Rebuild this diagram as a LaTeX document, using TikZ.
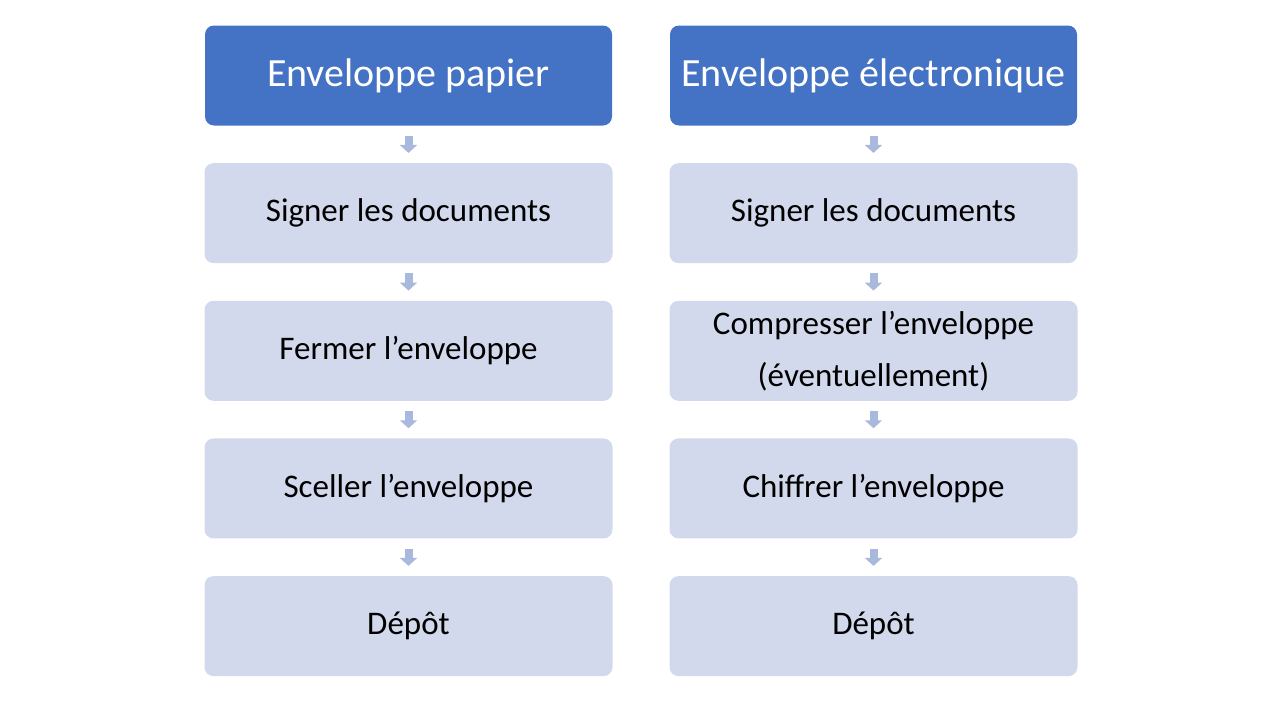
\documentclass[tikz,border=0pt]{standalone}
\usepackage{fontspec}
\setmainfont{Carlito}
\usepackage{tikz}
\usetikzlibrary{positioning,arrows.meta}
\definecolor{accent1}{HTML}{4472C4}
\definecolor{boxfill}{HTML}{D3D9EC}
\definecolor{arrowfill}{HTML}{A9B9DD}

\begin{document}
\begin{tikzpicture}[
      x=1pt, y=1pt,
      node distance=37.25pt,
      titre/.style={
        fill=accent1, text=white,
        rounded corners=9pt,
        minimum width=407pt, minimum height=100pt,
        inner sep=0pt,
        font=\fontsize{40}{48}\selectfont
      },
      etape/.style={
        fill=boxfill, text=black,
        rounded corners=9pt,
        minimum width=408pt, minimum height=100pt,
        align=center,
        inner sep=0pt,
        font=\fontsize{33}{52}\selectfont
      },
      fleche/.style={
        arrowfill, line width=8pt,
        -{Triangle[length=8pt,width=17pt]},
        shorten <=10pt, shorten >=10pt
      }
    ]
      \useasboundingbox (0,0) rectangle (1280,-720);
      \node[titre] (p0) at (408.5,-75.5) {Enveloppe papier};
      \node[etape, below=of p0] (p1) {Signer les documents};
      \node[etape, below=of p1] (p2) {Fermer l’enveloppe};
      \node[etape, below=of p2] (p3) {Sceller l’enveloppe};
      \node[etape, below=of p3] (p4) {Dépôt};

      \node[titre] (e0) at (873.5,-75.5) {Enveloppe électronique};
      \node[etape, below=of e0] (e1) {Signer les documents};
      \node[etape, below=of e1] (e2) {Compresser l’enveloppe\\(éventuellement)};
      \node[etape, below=of e2] (e3) {Chiffrer l’enveloppe};
      \node[etape, below=of e3] (e4) {Dépôt};

      \draw[fleche] (p0) -- (p1);
      \draw[fleche] (p1) -- (p2);
      \draw[fleche] (p2) -- (p3);
      \draw[fleche] (p3) -- (p4);
      \draw[fleche] (e0) -- (e1);
      \draw[fleche] (e1) -- (e2);
      \draw[fleche] (e2) -- (e3);
      \draw[fleche] (e3) -- (e4);
    \end{tikzpicture}
\end{document}
